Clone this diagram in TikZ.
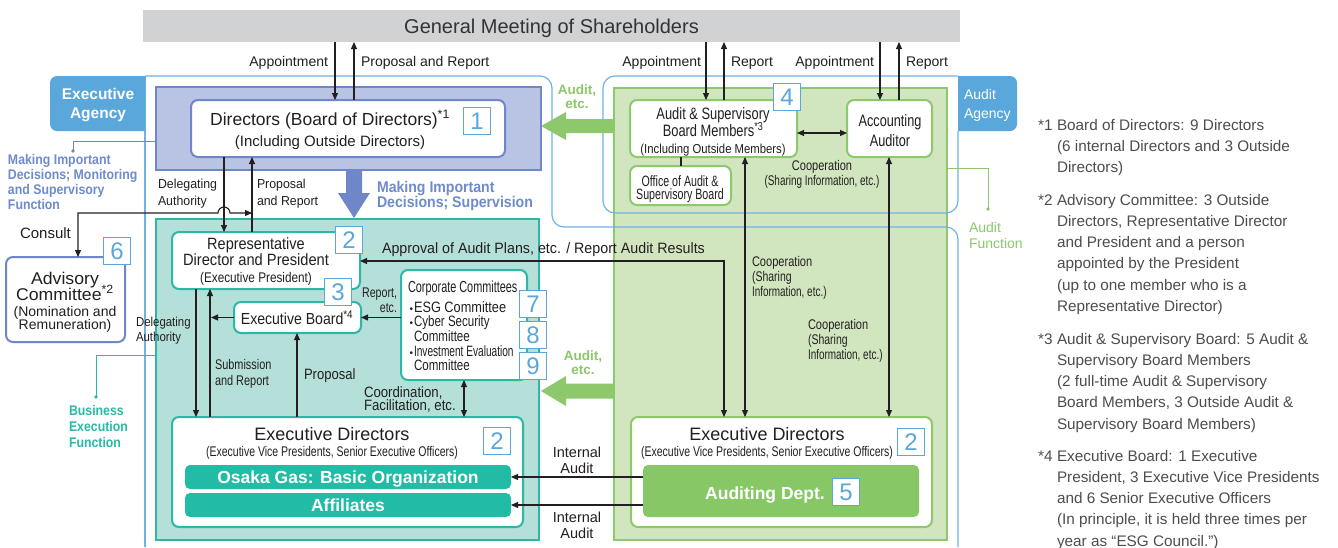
\documentclass[tikz,border=0pt]{standalone}
\usepackage{fontspec}
\setmainfont{Liberation Sans}
\usepackage{graphicx}
\usetikzlibrary{arrows.meta}
\definecolor{txt}{HTML}{231F20}
\definecolor{gmtxt}{HTML}{333333}
\definecolor{gmgray}{HTML}{D1D2D4}
\definecolor{blueD}{HTML}{6F87C8}
\definecolor{blueT}{HTML}{6E8BCD}
\definecolor{lav}{HTML}{B9C3E4}
\definecolor{tealB}{HTML}{2DB8A6}
\definecolor{tealF}{HTML}{B4E0D9}
\definecolor{tealBar}{HTML}{22BBA6}
\definecolor{tealT}{HTML}{2ABAA7}
\definecolor{grB}{HTML}{8DC86D}
\definecolor{grF}{HTML}{D1E6BF}
\definecolor{grBar}{HTML}{88C766}
\definecolor{grT}{HTML}{8BC86A}
\definecolor{agc}{HTML}{6EB3E3}
\definecolor{tabc}{HTML}{5AA7DC}
\definecolor{numc}{HTML}{5AA7DC}
\definecolor{noteT}{HTML}{4D4D4D}
\newcommand\myfs[1]{\fontsize{#1}{#1}\selectfont}
\newcommand\myhs[2]{\scalebox{#1}[1]{#2}}
\begin{document}
\begin{tikzpicture}[x=1pt,y=-1pt,>={Triangle[length=7pt,width=6pt]},
 every node/.style={inner sep=0pt,outer sep=0pt,text=txt},
 arr/.style={draw=txt,line width=1.1pt,->},
 arrs/.style={draw=txt,line width=1.1pt,<->},
 ln/.style={draw=txt,line width=1.1pt},
 agline/.style={draw=agc,line width=1.2pt},
 wbox/.style={draw=#1,fill=white,line width=2pt,rounded corners=7pt,anchor=north west},
 bar/.style={fill=#1,rounded corners=5pt,anchor=north west,text=white,text depth=0pt,font={\bfseries\myfs{17.5}}},
 numbox/.style={draw=numc,fill=white,line width=1.5pt,minimum width=27pt,minimum height=27pt,text=numc,font={\myfs{24}}},
 lab/.style={font={\myfs{#1}},yshift={-0.26pt*#1}},
 note/.style={font={\fontsize{15.3}{21.3}\selectfont},text=noteT,align=left,anchor=north west},
]
\useasboundingbox (0,0) rectangle (1338,547);
\fill[white] (0,0) rectangle (1338,547);

% General meeting
\node[fill=gmgray,minimum width=817pt,minimum height=32pt,anchor=north west,font={\myfs{20}},text=gmtxt,text depth=0pt] (gm) at (143,10) {General Meeting of Shareholders};

% audit area box
\node[draw=grB,fill=grF,line width=2pt,minimum width=333pt,minimum height=452pt,anchor=north west] (grn) at (614,88) {};

% agency outlines
\draw[agline] (145,547) -- (145,76);
\draw[agline,rounded corners=12pt] (145,76) -- (552,76) -- (552,227) -- (958,227) -- (958,547);
\draw[agline,rounded corners=12pt] (958,76) -- (603,76) -- (603,213) -- (958,213) -- (958,131);

% tabs
\fill[tabc] (145,76) -- (57,76) arc[start angle=-90,end angle=-180,radius=7] -- (50,124) arc[start angle=180,end angle=90,radius=7] -- (145,131) -- cycle;
\fill[tabc] (958,76) -- (1010,76) arc[start angle=-90,end angle=0,radius=7] -- (1017,124) arc[start angle=0,end angle=90,radius=7] -- (958,131) -- cycle;
\node[font={\bfseries\fontsize{15.5}{19}\selectfont},text=white,align=center] (tE) at (98,105) {Executive\\Agency};
\node[font={\fontsize{14}{19}\selectfont},text=white,align=left,anchor=west] (tA) at (964,105) {Audit\\Agency};

% band and teal area
\node[draw=blueD,fill=lav,line width=2pt,minimum width=385pt,minimum height=83pt,anchor=north west] (band) at (156,87) {};
\node[draw=tealB,fill=tealF,line width=2pt,minimum width=383pt,minimum height=321pt,anchor=north west] (tea) at (156,219) {};

% big arrows
\fill[blueD] (346,170) -- (362,170) -- (362,193) -- (370,193) -- (354,218) -- (338,193) -- (346,193) -- cycle;
\fill[grB] (614,119) -- (566,119) -- (566,112) -- (541,126) -- (566,140) -- (566,133) -- (614,133) -- cycle;
\fill[grB] (614,383.5) -- (566,383.5) -- (566,376) -- (541,391) -- (566,406) -- (566,398.5) -- (614,398.5) -- cycle;

% boxes
\node[wbox=blueD,minimum width=314pt,minimum height=57pt] (dir) at (191,100) {};
\node[wbox=blueD,minimum width=119pt,minimum height=85pt] (adv) at (6,257) {};
\node[wbox=tealB,minimum width=188pt,minimum height=57pt] (rep) at (172,232) {};
\node[wbox=tealB,minimum width=127pt,minimum height=31pt] (eb) at (234,302) {};
\node[wbox=tealB,minimum width=126pt,minimum height=110pt] (cc) at (401,270) {};
\node[wbox=tealB,minimum width=351pt,minimum height=110pt] (edl) at (172,417) {};
\node[bar=tealBar,minimum width=326pt,minimum height=24pt] (osaka) at (185,465) {Osaka Gas: Basic Organization};
\node[bar=tealBar,minimum width=326pt,minimum height=24pt] (aff) at (185,493) {Affiliates};
\node[wbox=grB,minimum width=301pt,minimum height=110pt] (edr) at (631,417) {};
\node[bar=grBar,minimum width=276pt,minimum height=52pt] (ad) at (643,465) {};
\node[wbox=grB,minimum width=167pt,minimum height=57pt] (asb) at (630,100) {};
\node[wbox=grB,minimum width=85pt,minimum height=57pt] (aa) at (847,100) {};
\node[wbox=grB,minimum width=101pt,minimum height=39pt] (off) at (630,166) {};

% number boxes
\node[numbox] (n1) at (477,121) {1};
\node[numbox] (n2a) at (349,240) {2};
\node[numbox] (n3) at (338,292) {3};
\node[numbox] (n4) at (787,97) {4};
\node[numbox] (n5) at (846,492) {5};
\node[numbox] (n6) at (117,251) {6};
\node[numbox] (n7) at (533,304) {7};
\node[numbox] (n8) at (533,335) {8};
\node[numbox] (n9) at (533,366) {9};
\node[numbox] (n2b) at (497,441) {2};
\node[numbox] (n2c) at (911,442) {2};

% connectors
\draw[arr] (335,0 |- gm.south) -- (335,0 |- dir.north);
\draw[arr] (354,0 |- dir.north) -- (354,0 |- gm.south);
\draw[arr] (706,0 |- gm.south) -- (706,0 |- asb.north);
\draw[arr] (724,0 |- asb.north) -- (724,0 |- gm.south);
\draw[arr] (880,0 |- gm.south) -- (880,0 |- aa.north);
\draw[arr] (899,0 |- aa.north) -- (899,0 |- gm.south);
\draw[arr] (224,0 |- dir.south) -- (224,0 |- rep.north);
\draw[arr] (252,0 |- rep.north) -- (252,0 |- dir.south);
\coordinate (cj) at (252,213);
\draw[arrs] (cj) -- (230,213) arc[start angle=0,end angle=-180,radius=6] -- (78,213) -- (78,0 |- adv.north);
\draw[arr] (196,0 |- rep.south) -- (196,0 |- edl.north);
\draw[arr] (210,0 |- edl.north) -- (210,0 |- rep.south);
\draw[arr] (eb.west) -- (211,0 |- eb.west);
\draw[arr] (297,0 |- edl.north) -- (297,0 |- eb.south);
\draw[arr] (cc.west |- eb.east) -- (eb.east);
\draw[arrs] (464,0 |- cc.south) -- (464,0 |- edl.north);
\draw[arrs] (rep.east |- 0,261) -| (724,0 |- edr.north);
\draw[arrs] (745,0 |- asb.south) -- (745,0 |- edr.north);
\draw[arrs] (889,0 |- aa.south) -- (889,0 |- edr.north);
\draw[arrs] (asb.east |- 0,133) -- (aa.west |- 0,133);
\draw[ln] (681,0 |- asb.south) -- (681,0 |- off.north);
\draw[arr] (ad.west |- osaka.east) -- (osaka.east);
\draw[arr] (ad.west |- aff.east) -- (aff.east);

% function leaders
\coordinate (d1) at (73,151);
\draw[draw=blueD,line width=1pt] (band.west |- 0,141) -| (d1);
\fill[blueD] (d1) circle[radius=1.8];
\coordinate (d2) at (96,397);
\draw[draw=tealB,line width=1pt] (tea.west |- 0,355) -| (d2);
\fill[tealB] (d2) circle[radius=1.8];
\coordinate (d3) at (988,209);
\draw[draw=grB,line width=1pt] (grn.east |- 0,168) -| (d3);
\fill[grB] (d3) circle[radius=1.8];

% top labels
\node[lab=14,anchor=mid east] (l1) at (328,60) {Appointment};
\node[lab=14,anchor=mid west] (l2) at (361,60) {Proposal and Report};
\node[lab=14,anchor=mid east] (l3) at (701,60) {Appointment};
\node[lab=14,anchor=mid west] (l4) at (731,60) {Report};
\node[lab=14,anchor=mid east] (l5) at (874,60) {Appointment};
\node[lab=14,anchor=mid west] (l6) at (906,60) {Report};

\node[font={\bfseries\fontsize{13.5}{14}\selectfont},text=grT,align=center] (tAu1) at (577,97) {Audit,\\etc.};
\node[font={\bfseries\fontsize{13.5}{14}\selectfont},text=grT,align=center] (tAu2) at (583,362.5) {Audit,\\etc.};

% directors
\node[lab=17.5,anchor=mid] (tD1) at (330,118) {Directors (Board of Directors)\textsuperscript{*1}};
\node[lab=15,anchor=mid] (tD2) at (330,140) {(Including Outside Directors)};
\node[font={\bfseries\fontsize{15.5}{15.5}\selectfont},text=blueT,align=left,anchor=west] (tMI) at (377,196) {\myhs{.91}{Making Important}\\\myhs{.91}{Decisions; Supervision}};
\node[font={\bfseries\fontsize{14}{15}\selectfont},text=blueT,align=left,anchor=west] (tMI2) at (8,181.5) {\myhs{.88}{Making Important}\\\myhs{.88}{Decisions; Monitoring}\\\myhs{.88}{and Supervisory}\\\myhs{.88}{Function}};
\node[font={\fontsize{13}{17}\selectfont},align=left,anchor=west] (tDel1) at (158,194) {\myhs{.95}{Delegating}\\\myhs{.95}{Authority}};
\node[font={\fontsize{13}{17}\selectfont},align=left,anchor=west] (tPR) at (257,194) {\myhs{.95}{Proposal}\\\myhs{.95}{and Report}};
\node[lab=15,anchor=mid west] (tCon) at (20,232) {Consult};

% advisory
\node[lab=17,anchor=mid] (tAd1) at (65,277) {\myhs{1.04}{Advisory}};
\node[lab=17,anchor=mid] (tAd2) at (65,293) {\myhs{1.04}{Committee\textsuperscript{*2}}};
\node[lab=14,anchor=mid] (tAd3) at (65,310) {(Nomination and};
\node[lab=14,anchor=mid] (tAd4) at (65,323) {Remuneration)};

% representative director
\node[lab=16.3,anchor=mid] (tR1) at (256,243) {\myhs{.89}{Representative}};
\node[lab=16.3,anchor=mid] (tR2) at (256,259) {\myhs{.9}{Director and President}};
\node[lab=14,anchor=mid] (tR3) at (256,276) {\myhs{.84}{(Executive President)}};
\node[lab=16,anchor=mid] (tEB) at (297,318) {\myhs{.88}{Executive Board\textsuperscript{*4}}};
\node[font={\fontsize{14}{15}\selectfont},align=right,anchor=east] (tRep) at (397,300.5) {\myhs{.76}{Report,}\\\myhs{.76}{etc.}};
\node[font={\fontsize{14}{16}\selectfont},align=left,anchor=west] (tSub) at (215,374) {\myhs{.78}{Submission}\\\myhs{.78}{and Report}};
\node[lab=15,anchor=mid west] (tProp) at (304,373) {\myhs{.87}{Proposal}};
\node[font={\fontsize{13}{15}\selectfont},align=left,anchor=west] (tDel2) at (136,331) {\myhs{.88}{Delegating}\\\myhs{.88}{Authority}};

% corporate committees
\node[lab=16,anchor=mid west] (tCC) at (408,286) {\myhs{.68}{Corporate Committees}};
\node[lab=15,anchor=mid west] (tCC1) at (414,306) {\llap{\myfs{10}•\hspace{1pt}}\myhs{.85}{ESG Committee}};
\node[lab=15,anchor=mid west] (tCC2) at (414,320) {\llap{\myfs{10}•\hspace{1pt}}\myhs{.77}{Cyber Security}};
\node[lab=15,anchor=mid west] (tCC3) at (414,335) {\myhs{.77}{Committee}};
\node[lab=15,anchor=mid west] (tCC4) at (414,350) {\llap{\myfs{10}•\hspace{1pt}}\myhs{.675}{Investment Evaluation}};
\node[lab=15,anchor=mid west] (tCC5) at (414,364) {\myhs{.77}{Committee}};
\node[lab=15,anchor=mid west] (tCo1) at (364,391) {\myhs{.88}{Coordination,}};
\node[lab=15,anchor=mid west] (tCo2) at (364,404) {\myhs{.88}{Facilitation, etc.}};
\node[lab=15,anchor=mid west] (tApp) at (382,247) {\myhs{.95}{Approval of Audit Plans, etc. / Report Audit Results}};

\node[font={\bfseries\fontsize{14}{16}\selectfont},text=tealT,align=left,anchor=west] (tBE) at (69,426) {\myhs{.88}{Business}\\\myhs{.88}{Execution}\\\myhs{.88}{Function}};

% executive directors
\node[lab=18,anchor=mid] (tEDL1) at (332,433) {Executive Directors};
\node[lab=14,anchor=mid] (tEDL2) at (332,450) {\myhs{.75}{(Executive Vice Presidents, Senior Executive Officers)}};
\node[lab=18,anchor=mid] (tEDR1) at (767,433) {Executive Directors};
\node[lab=14,anchor=mid] (tEDR2) at (767,450) {\myhs{.75}{(Executive Vice Presidents, Senior Executive Officers)}};
\node[font={\bfseries\myfs{17.5}},text=white,anchor=mid,yshift=-4.5pt] (tAD) at (765,492) {Auditing Dept.};
\node[font={\fontsize{14.5}{16}\selectfont},align=center] (tIA1) at (577,460) {Internal\\Audit};
\node[font={\fontsize{14.5}{16}\selectfont},align=center] (tIA2) at (577,525.5) {Internal\\Audit};

% audit side
\node[lab=16.5,anchor=mid] (tAS1) at (713,113) {\myhs{.78}{Audit \& Supervisory}};
\node[lab=16.5,anchor=mid] (tAS2) at (713,130) {\myhs{.78}{Board Members\textsuperscript{*3}}};
\node[lab=13,anchor=mid] (tAS3) at (713,147) {\myhs{.87}{(Including Outside Members)}};
\node[lab=16.5,anchor=mid] (tAA1) at (890,120) {\myhs{.77}{Accounting}};
\node[lab=16.5,anchor=mid] (tAA2) at (890,140) {\myhs{.77}{Auditor}};
\node[lab=15,anchor=mid] (tOf1) at (680,180) {\myhs{.71}{Office of Audit \&}};
\node[lab=15,anchor=mid] (tOf2) at (680,193) {\myhs{.71}{Supervisory Board}};
\node[font={\fontsize{14}{15}\selectfont},align=center] (tCp1) at (822,174) {\myhs{.79}{Cooperation}\\\myhs{.71}{(Sharing Information, etc.)}};
\node[font={\fontsize{14}{15}\selectfont},align=left,anchor=west] (tCp2) at (752,277.5) {\myhs{.79}{Cooperation}\\\myhs{.75}{(Sharing}\\\myhs{.71}{Information, etc.)}};
\node[font={\fontsize{14}{15}\selectfont},align=left,anchor=west] (tCp3) at (808,341) {\myhs{.79}{Cooperation}\\\myhs{.75}{(Sharing}\\\myhs{.71}{Information, etc.)}};
\node[font={\fontsize{14}{16}\selectfont},text=grT,align=left,anchor=west] (tAF) at (969,235.5) {Audit\\Function};

% notes
\node[note] (b1) at (1057,119) {\llap{*1\hspace{4.5pt}}Board of Directors: 9 Directors\\(6 internal Directors and 3 Outside\\Directors)};
\node[note] (b2) at (1057,194) {\llap{*2\hspace{4.5pt}}Advisory Committee: 3 Outside\\Directors, Representative Director\\and President and a person\\appointed by the President\\(up to one member who is a\\Representative Director)};
\node[note] (b3) at (1057,333) {\llap{*3\hspace{4.5pt}}Audit \& Supervisory Board: 5 Audit \&\\Supervisory Board Members\\(2 full-time Audit \& Supervisory\\Board Members, 3 Outside Audit \&\\Supervisory Board Members)};
\node[note] (b4) at (1057,450) {\llap{*4\hspace{4.5pt}}Executive Board: 1 Executive\\President, 3 Executive Vice Presidents\\and 6 Senior Executive Officers\\(In principle, it is held three times per\\year as “ESG Council.”)};
\end{tikzpicture}
\end{document}
